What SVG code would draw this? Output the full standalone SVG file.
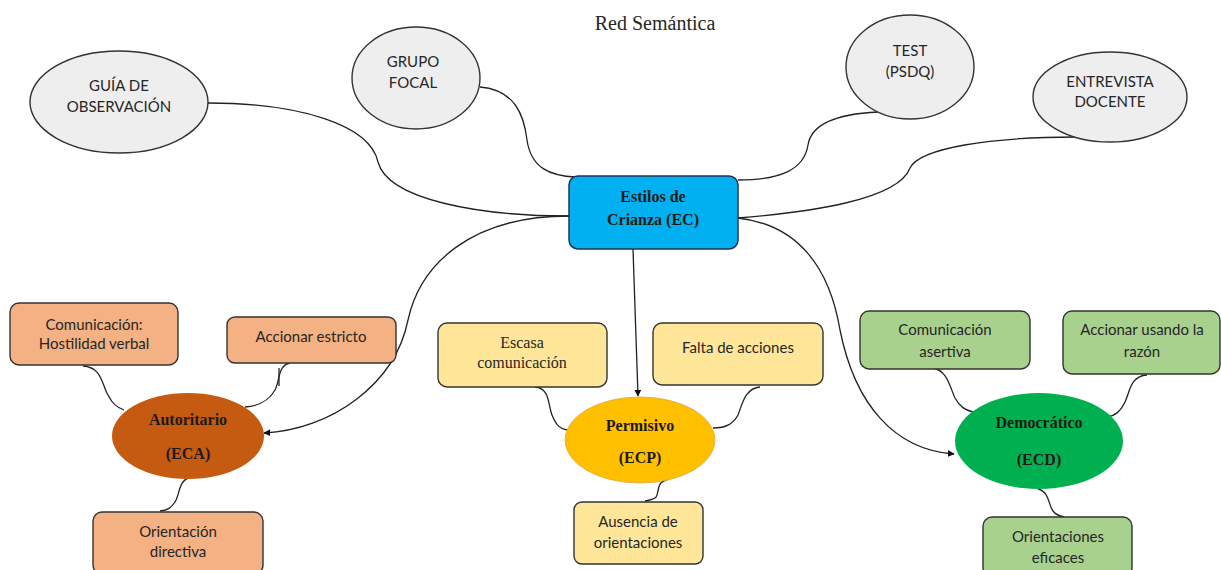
<svg xmlns="http://www.w3.org/2000/svg" width="1221" height="570" viewBox="0 0 1221 570">
<style>
.bg{fill:#ffffff}
.src{fill:#eeeeee;stroke:#333333;stroke-width:1.4}
.box{stroke:#333333;stroke-width:1.4}
.conn{fill:none;stroke:#222222;stroke-width:1.3}
.sans{font-family:Lato,"Open Sans","Liberation Sans",sans-serif;font-size:15px;fill:#262626;text-anchor:middle}
.serif{font-family:"Liberation Serif","DejaVu Serif",serif;font-size:16px;fill:#262626;text-anchor:middle}
.bold{font-family:"Liberation Serif","DejaVu Serif",serif;font-size:16px;font-weight:bold;fill:#1e1a14;text-anchor:middle}
</style>
<defs>
<marker id="arr" viewBox="0 0 10 10" refX="9" refY="5" markerWidth="7" markerHeight="7" orient="auto" markerUnits="userSpaceOnUse"><path d="M0,0 L10,5 L0,10 z" fill="#111111"/></marker>
</defs>
<rect class="bg" x="0" y="0" width="1221" height="570"/>
<text x="655" y="30" font-family="'Liberation Serif',serif" font-size="20" fill="#262626" text-anchor="middle">Red Semántica</text>

<g id="connectors">
<path class="conn" d="M208,103 C300,103 370,125 378,162 C388,200 480,216 569,216"/>
<path class="conn" d="M480,87 C515,90 524,115 527,140 C531,168 550,176 576,177"/>
<path class="conn" d="M878,112 C835,114 811,125 808,145 C804,170 780,180 738,180"/>
<path class="conn" d="M1077,137 C990,137 920,148 910,168 C898,200 810,212 738,218"/>
<path class="conn" marker-end="url(#arr)" d="M569,216 C470,216 420,265 408,320 C395,385 330,430 264,433"/>
<path class="conn" marker-end="url(#arr)" d="M633,249 L638,396"/>
<path class="conn" marker-end="url(#arr)" d="M738,218 C800,225 830,270 840,330 C855,405 895,450 954,454"/>
<path class="conn" d="M83,366 C102,367 102,385 108,395 C113,405 118,408 124,410"/>
<path class="conn" d="M290,363 C278,365 280,380 275,390 C268,402 258,406 245,407"/>
<path class="conn" d="M279,368 L279,386"/>
<path class="conn" d="M192,477 C178,479 180,495 175,502 C171,508 168,510 160,511"/>
<path class="conn" d="M535,387 C550,388 548,405 552,415 C556,425 560,429 567,430"/>
<path class="conn" d="M760,387 C745,388 742,405 738,415 C733,424 726,428 713,428"/>
<path class="conn" d="M667,480 C655,482 660,495 655,498 C652,500 650,500 645,501"/>
<path class="conn" d="M932,368 C948,370 950,388 955,398 C960,407 965,410 973,412"/>
<path class="conn" d="M1147,375 C1130,376 1130,392 1125,402 C1120,412 1115,416 1107,417"/>
<path class="conn" d="M1038,489 C1050,492 1048,505 1053,511 C1056,515 1059,516 1064,517"/>
</g>

<g id="n-guia"><ellipse class="src" cx="119" cy="102" rx="89" ry="51"/><text class="sans" x="119" y="91">GUÍA DE</text><text class="sans" x="119" y="112">OBSERVACIÓN</text></g>
<g id="n-grupo"><ellipse class="src" cx="416" cy="78" rx="64" ry="51"/><text class="sans" x="413" y="67">GRUPO</text><text class="sans" x="413" y="88">FOCAL</text></g>
<g id="n-test"><ellipse class="src" cx="910" cy="67" rx="64" ry="52"/><text class="sans" x="910" y="56">TEST</text><text class="sans" x="910" y="77">(PSDQ)</text></g>
<g id="n-entrevista"><ellipse class="src" cx="1110" cy="97" rx="77" ry="45"/><text class="sans" x="1110" y="87">ENTREVISTA</text><text class="sans" x="1110" y="107">DOCENTE</text></g>

<g id="n-ec"><rect x="569" y="176" width="169" height="73" rx="9" fill="#00b0f0" stroke="#1f3556" stroke-width="1.5"/><text class="bold" x="653" y="202" font-size="18" fill="#1c2a4a">Estilos de</text><text class="bold" x="653" y="225" font-size="18" fill="#1c2a4a">Crianza (EC)</text></g>

<g id="n-eca"><ellipse cx="188" cy="436" rx="76" ry="43" fill="#c55a11"/><text class="bold" x="188" y="425">Autoritario</text><text class="bold" x="188" y="459">(ECA)</text></g>
<g id="n-hostil"><rect class="box" x="10" y="303" width="168" height="62" rx="9" fill="#f4b183"/><text class="sans" x="94" y="330">Comunicación:</text><text class="sans" x="94" y="349">Hostilidad verbal</text></g>
<g id="n-estricto"><rect class="box" x="227" y="317" width="169" height="46" rx="8" fill="#f4b183"/><text class="sans" x="311" y="342">Accionar estricto</text></g>
<g id="n-directiva"><rect class="box" x="93" y="512" width="170" height="62" rx="9" fill="#f4b183"/><text class="sans" x="178" y="537">Orientación</text><text class="sans" x="178" y="557">directiva</text></g>

<g id="n-ecp"><ellipse cx="640" cy="440" rx="75" ry="43" fill="#ffc000" stroke="#e8b040" stroke-width="1"/><text class="bold" x="640" y="431">Permisivo</text><text class="bold" x="640" y="463">(ECP)</text></g>
<g id="n-escasa"><rect class="box" x="438" y="323" width="169" height="64" rx="9" fill="#ffe699"/><text class="serif" x="522" y="348">Escasa</text><text class="serif" x="522" y="368">comunicación</text></g>
<g id="n-falta"><rect class="box" x="653" y="323" width="170" height="62" rx="9" fill="#ffe699"/><text class="sans" x="738" y="353">Falta de acciones</text></g>
<g id="n-ausencia"><rect class="box" x="574" y="502" width="129" height="62" rx="8" fill="#ffe699"/><text class="sans" x="638" y="527">Ausencia de</text><text class="sans" x="638" y="548">orientaciones</text></g>

<g id="n-ecd"><ellipse cx="1039" cy="441" rx="84" ry="48" fill="#00b050"/><text class="bold" x="1039" y="428">Democrático</text><text class="bold" x="1039" y="465">(ECD)</text></g>
<g id="n-asertiva"><rect class="box" x="860" y="311" width="170" height="58" rx="9" fill="#a9d18e"/><text class="sans" x="945" y="335">Comunicación</text><text class="sans" x="945" y="357">asertiva</text></g>
<g id="n-razon"><rect class="box" x="1063" y="311" width="157" height="63" rx="9" fill="#a9d18e"/><text class="sans" x="1142" y="335">Accionar usando la</text><text class="sans" x="1142" y="357">razón</text></g>
<g id="n-eficaces"><rect class="box" x="983" y="517" width="149" height="60" rx="9" fill="#a9d18e"/><text class="sans" x="1058" y="542">Orientaciones</text><text class="sans" x="1058" y="563">eficaces</text></g>
</svg>
